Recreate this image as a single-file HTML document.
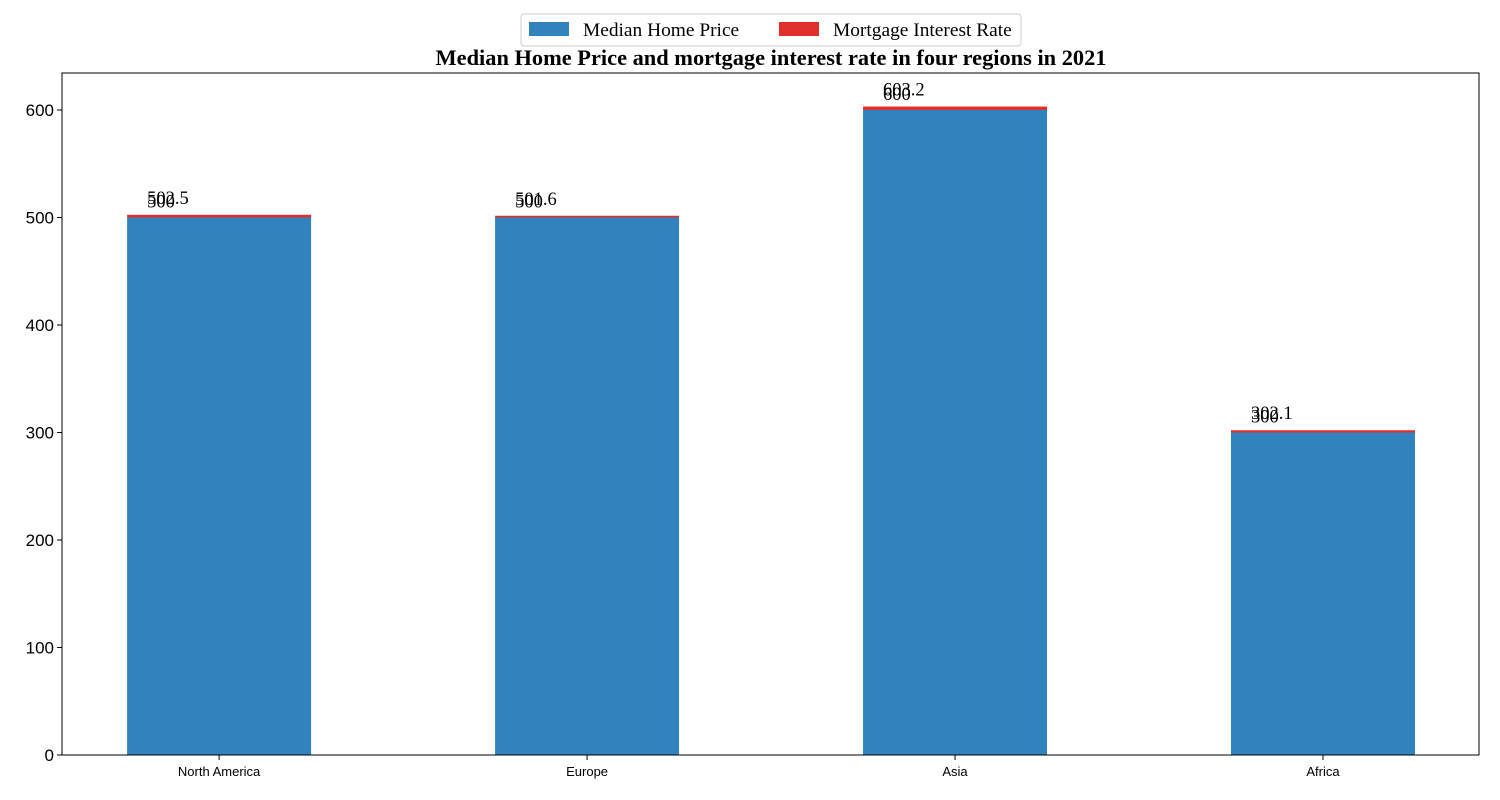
<!DOCTYPE html>
<html><head><meta charset="utf-8"><style>
body{margin:0;background:#fff;width:1500px;height:800px;overflow:hidden}
svg{display:block}
</style></head><body>
<svg id="chart" width="1500" height="800">
<rect x="0" y="0" width="1500" height="800" fill="#fff"/>
<g id="bars"></g>
<g id="labels"></g>
<rect x="62" y="73" width="1417" height="682" fill="none" stroke="#000" stroke-width="1"/>
<g id="yaxis"></g>
<g id="xaxis"></g>
<text x="771" y="65" text-anchor="middle" font-family="Liberation Serif, serif" font-weight="bold" font-size="22.4">Median Home Price and mortgage interest rate in four regions in 2021</text>
<g>
<rect x="521" y="14" width="500" height="32" rx="3" fill="#fff" stroke="#ccc"/>
<rect x="529" y="22" width="40" height="14" fill="#3282bd"/>
<text x="583" y="36" font-family="Liberation Serif, serif" font-size="19.4">Median Home Price</text>
<rect x="779" y="22" width="40" height="14" fill="#e0302b"/>
<text x="833" y="36" font-family="Liberation Serif, serif" font-size="19.4">Mortgage Interest Rate</text>
</g>
</svg>
<script>
const categories = ["North America","Europe","Asia","Africa"];
const prices = [500,500,600,300];
const rates = [2.5,1.6,3.2,2.1];
const yTicks = [0,100,200,300,400,500,600];
const NS="http://www.w3.org/2000/svg";
const L=62,R=1479,T=73,B=755;
const xMin=-0.427,xMax=3.424,yMin=0,yMax=634.4;
const xs=v=>L+(v-xMin)/(xMax-xMin)*(R-L);
const ys=v=>B-(v-yMin)/(yMax-yMin)*(B-T);
const bw=(xs(0.5)-xs(0));
function mk(tag,attrs,parent){const e=document.createElementNS(NS,tag);for(const k in attrs)e.setAttribute(k,attrs[k]);parent.appendChild(e);return e;}
const gb=document.getElementById('bars'),gl=document.getElementById('labels'),gy=document.getElementById('yaxis'),gx=document.getElementById('xaxis');
categories.forEach((c,i)=>{
  const x0=xs(i)-bw/2;
  const b1=mk('rect',{x:x0,y:ys(prices[i]),width:bw,height:ys(0)-ys(prices[i]),fill:'#3282bd'},gb);
  
  
  const tot=prices[i]+rates[i];
  const b2=mk('rect',{x:x0,y:ys(tot),width:bw,height:ys(prices[i])-ys(tot),fill:'#e0302b'},gb);
  
  
  const t1=mk('text',{x:x0+20,y:ys(prices[i])-10,'font-family':'Liberation Serif, serif','font-size':18.5},gl);
  t1.textContent=String(prices[i]);
  
  
  const t2=mk('text',{x:x0+20,y:ys(tot)-11,'font-family':'Liberation Serif, serif','font-size':18.5},gl);
  t2.textContent=String(Math.round(tot*10)/10);
  
  
  mk('line',{x1:xs(i),x2:xs(i),y1:B,y2:B+5,stroke:'#000'},gx);
  const tx=mk('text',{x:xs(i),y:B+21,'text-anchor':'middle','font-family':'Liberation Sans, sans-serif','font-size':13},gx);
  tx.textContent=c;
  
  
});
yTicks.forEach(v=>{
  mk('line',{x1:L-5,x2:L,y1:ys(v),y2:ys(v),stroke:'#000'},gy);
  const t=mk('text',{x:L-8,y:ys(v)+6,'text-anchor':'end','font-family':'Liberation Sans, sans-serif','font-size':17},gy);
  t.textContent=String(v);
  
  
});
</script>
</body></html>
